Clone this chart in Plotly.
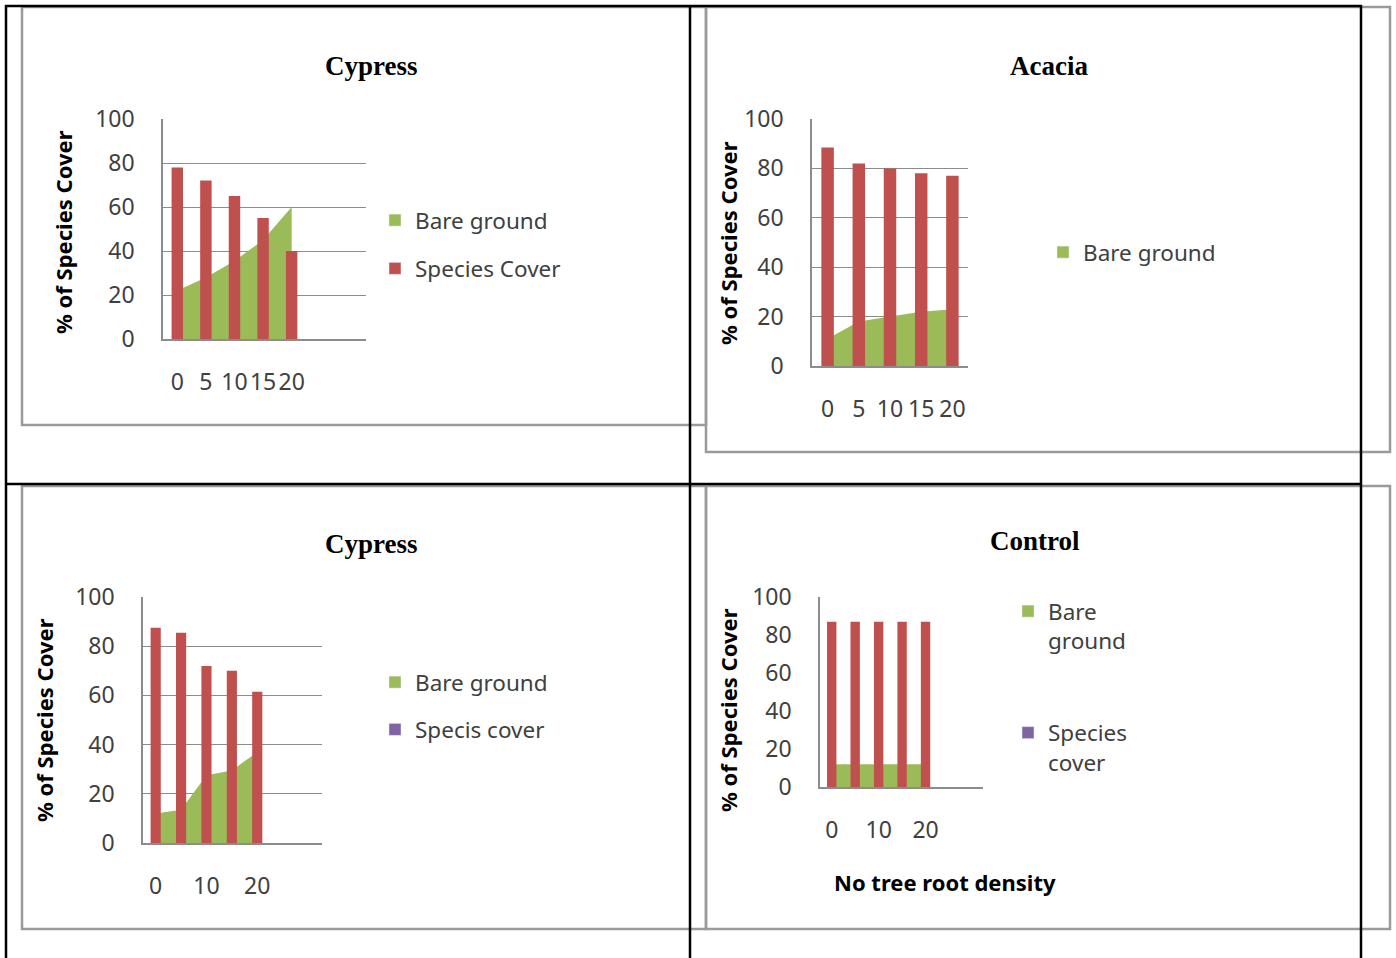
import plotly.graph_objects as go

# ---- data -------------------------------------------------------------
depth = ["0", "5", "10", "15", "20"]

cypress_a_bare = [22, 28, 35.5, 45, 60]
cypress_a_species = [78, 72, 65, 55, 40]

acacia_bare = [11, 18, 20, 22, 23]
acacia_species = [88.5, 82, 80, 78, 77]

cypress_b_bare = [12, 13.5, 27.5, 29.5, 37]
cypress_b_species = [87.5, 85.5, 72, 70, 61.5]

control_bare = [12, 12, 12, 12, 12]
control_species = [87, 87, 87, 87, 87]

y_ticks = [0, 20, 40, 60, 80, 100]

# ---- styling ----------------------------------------------------------
W, H = 1396, 958
GREEN = "#9BBB59"
RED = "#C0504D"
PURPLE = "#8064A2"
GRID = "#8c8c8c"
TEXT = "#404040"
SANS = "Noto Sans"
SERIF = "Liberation Serif"


def fx(px):
    return px / W


def fy(py):
    return 1 - py / H


panels = [
    dict(title="Cypress", bare=cypress_a_bare, species=cypress_a_species,
         box=(163, 366, 119, 339), xrange=[-0.5, 6.6], xticks=depth, grid=True,
         title_at=(371, 66), ytitle_at=(63, 232),
         legend_at=(375, 199), legend_items=[("Bare ground", GREEN), ("Species Cover", RED)],
         legend_gap=16),
    dict(title="Acacia", bare=acacia_bare, species=acacia_species,
         box=(812, 968, 119, 366), xrange=[-0.5, 4.5], xticks=depth, grid=True,
         title_at=(1049, 66), ytitle_at=(728, 243),
         legend_at=(1043, 231), legend_items=[("Bare ground", GREEN)],
         legend_gap=16),
    dict(title="Cypress", bare=cypress_b_bare, species=cypress_b_species,
         box=(143, 322, 597, 843), xrange=[-0.5, 6.55], xticks=["0", "10", "20"], grid=True,
         title_at=(371, 544), ytitle_at=(44, 720),
         legend_at=(375, 661), legend_items=[("Bare ground", GREEN), ("Specis cover", PURPLE)],
         legend_gap=15),
    dict(title="Control", bare=control_bare, species=control_species,
         box=(820, 983, 597, 787), xrange=[-0.5, 6.45], xticks=["0", "10", "20"], grid=False,
         title_at=(1035, 541), ytitle_at=(728, 710),
         legend_at=(1008, 590), legend_items=[("Bare<br>ground", GREEN), ("Species<br>cover", PURPLE)],
         legend_gap=60, xtitle="No tree root density", xtitle_at=(945, 882)),
]

fig = go.Figure()
layout = dict(
    width=W, height=H,
    margin=dict(l=0, r=0, t=0, b=0, pad=0, autoexpand=False),
    paper_bgcolor="white", plot_bgcolor="white",
    showlegend=True,
    barmode="overlay",
    annotations=[], shapes=[],
)

for i, p in enumerate(panels):
    n = i + 1
    ov = n + 4  # overlay axes carry the bars so they sit above the area
    xa = "x" if n == 1 else f"x{n}"
    ya = "y" if n == 1 else f"y{n}"
    xo, yo = f"x{ov}", f"y{ov}"
    leg = "legend" if n == 1 else f"legend{n}"
    x0, x1, y0, y1 = p["box"]

    fig.add_trace(go.Scatter(
        x=depth, y=p["bare"], mode="none", fill="tozeroy", fillcolor=GREEN,
        name="Bare ground", showlegend=False, xaxis=xa, yaxis=ya))
    fig.add_trace(go.Bar(
        x=depth, y=p["species"], width=0.4, marker=dict(color=RED, line=dict(width=0)),
        name="Species cover", showlegend=False, xaxis=xo, yaxis=yo))

    for k, (label, colour) in enumerate(p["legend_items"]):
        fig.add_trace(go.Bar(
            x=[None], y=[None], name=label, marker=dict(color=colour),
            legend=leg, legendgroup=f"p{n}g{k}", showlegend=True,
            xaxis=xo, yaxis=yo))

    common_x = dict(type="category", categoryorder="array", categoryarray=depth,
                    range=p["xrange"], domain=[fx(x0), fx(x1)], automargin=False)
    common_y = dict(range=[0, 100], domain=[fy(y1), fy(y0)], automargin=False)

    layout[f"xaxis{'' if n == 1 else n}"] = dict(
        **common_x, anchor=ya,
        showline=True, linecolor=GRID, linewidth=1.5, showgrid=False, zeroline=False,
        ticks="", tickmode="array", tickvals=p["xticks"], ticktext=p["xticks"],
        tickangle=0, ticklabelstandoff=22,
        tickfont=dict(family=SANS, size=23, color=TEXT))
    layout[f"yaxis{'' if n == 1 else n}"] = dict(
        **common_y, anchor=xa,
        showline=True, linecolor=GRID, linewidth=1.5,
        showgrid=p["grid"], gridcolor=GRID, gridwidth=1.4, zeroline=False,
        ticks="", tickmode="array", tickvals=y_ticks, ticklabelstandoff=22,
        tickfont=dict(family=SANS, size=23, color=TEXT))
    layout[f"xaxis{ov}"] = dict(**common_x, overlaying=xa, anchor=yo, visible=False)
    layout[f"yaxis{ov}"] = dict(**common_y, overlaying=ya, anchor=xo, visible=False)

    lx, ly = p["legend_at"]
    layout[leg] = dict(
        x=fx(lx), y=fy(ly), xanchor="left", yanchor="top",
        bgcolor="rgba(0,0,0,0)", borderwidth=0,
        font=dict(family=SANS, size=22.5, color=TEXT),
        tracegroupgap=p["legend_gap"], valign="top", traceorder="grouped")

    tx, ty = p["title_at"]
    layout["annotations"].append(dict(
        text=f"<b>{p['title']}</b>", x=fx(tx), y=fy(ty), xref="paper", yref="paper",
        showarrow=False, xanchor="center", yanchor="middle",
        font=dict(family=SERIF, size=27, color="black")))
    ax_, ay_ = p["ytitle_at"]
    layout["annotations"].append(dict(
        text="<b>% of Species Cover</b>", x=fx(ax_), y=fy(ay_), xref="paper", yref="paper",
        showarrow=False, xanchor="center", yanchor="middle", textangle=-90,
        font=dict(family=SANS, size=22, color="black")))
    if "xtitle" in p:
        bx, by = p["xtitle_at"]
        layout["annotations"].append(dict(
            text=f"<b>{p['xtitle']}</b>", x=fx(bx), y=fy(by), xref="paper", yref="paper",
            showarrow=False, xanchor="center", yanchor="middle",
            font=dict(family=SANS, size=22, color="black")))


# ---- frames: grey chart boxes and the black table rules -----------------
def line(xa_, ya_, xb_, yb_, colour, width):
    return dict(type="line", xref="paper", yref="paper",
                x0=fx(xa_), y0=fy(ya_), x1=fx(xb_), y1=fy(yb_),
                line=dict(color=colour, width=width), layer="above")


def rect(xa_, ya_, xb_, yb_):
    return dict(type="rect", xref="paper", yref="paper",
                x0=fx(xa_), y0=fy(ya_), x1=fx(xb_), y1=fy(yb_),
                line=dict(color="#9a9a9a", width=2.5), fillcolor="rgba(0,0,0,0)",
                layer="above")


layout["shapes"] += [
    rect(22, 7, 706, 425),
    rect(706, 7, 1390, 452),
    rect(22, 486, 706, 929),
    rect(706, 486, 1390, 929),
    line(5, 6, 1362, 6, "black", 2.5),
    line(5, 484, 1362, 484, "black", 2.5),
    line(6, 5, 6, 958, "black", 2.5),
    line(690, 5, 690, 958, "black", 2.5),
    line(1361, 5, 1361, 958, "black", 2.5),
]

fig.update_layout(**layout)
fig.write_html("out.html")
